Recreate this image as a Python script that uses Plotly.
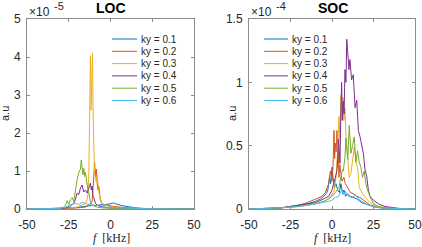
import plotly.graph_objects as go

W, H = 422, 247
colors = ["#0072BD", "#D95319", "#EDB120", "#7E2F8E", "#77AC30", "#4DBEEE"]
ky_labels = ["ky = 0.1", "ky = 0.2", "ky = 0.3", "ky = 0.4", "ky = 0.5", "ky = 0.6"]
x_ticks = [-50, -25, 0, 25, 50]
loc_yticks = [0, 1, 2, 3, 4, 5]
soc_yticks = [0, 0.5, 1, 1.5]

# ---------------- LOC (values in units of 1e-5) ----------------
loc_f1 = [-50,-35,-25,-20,-16,-13,-10,-8,-6,-4,-2,0,1,2,3,4,6,8,10,12,15,20,25,35,50]
loc_v1 = [0,0.005,0.02,0.04,0.06,0.08,0.10,0.09,0.12,0.1,0.13,0.14,0.15,0.16,0.14,0.12,0.10,0.08,0.06,0.04,0.03,0.015,0.005,0.002,0]

loc_f2 = [-50,-35,-25,-20,-15,-13,-12,-11,-10.5,-10,-9.5,-9,-8.5,-8,-7.5,-7,-6.5,-6,-5,-4,-2,0,3,6,10,20,35,50]
loc_v2 = [0,0.005,0.02,0.03,0.05,0.1,0.15,0.2,0.5,0.9,1.22,0.85,1.05,0.7,0.5,0.6,0.35,0.2,0.15,0.12,0.1,0.08,0.06,0.05,0.03,0.01,0.002,0]

loc_f3 = [-50,-35,-25,-20,-17,-15,-14,-13.5,-13,-12.5,-12,-11.6,-11.2,-10.8,-10.4,-10,-9.6,-9,-8.5,-8,-7.5,-7,-6,-5,-3,0,5,10,20,35,50]
loc_v3 = [0,0.005,0.02,0.05,0.1,0.15,0.25,0.4,0.9,2.0,4.03,2.6,3.2,4.1,2.5,1.4,0.95,0.85,0.7,0.88,0.58,0.45,0.25,0.15,0.1,0.06,0.03,0.02,0.01,0.002,0]

loc_f4 = [-50,-35,-28,-25,-23,-22,-21,-20,-19,-18,-17,-16,-15,-14,-13,-12.5,-12,-11.5,-11,-10.5,-10,-9,-8,-7,-5,-3,0,5,10,20,35,50]
loc_v4 = [0,0.005,0.02,0.04,0.1,0.15,0.25,0.42,0.38,0.55,0.63,0.45,0.5,0.42,0.55,0.6,0.68,0.5,0.6,0.35,0.3,0.15,0.1,0.08,0.05,0.04,0.03,0.02,0.01,0.005,0.002,0]

loc_f5 = [-50,-35,-30,-28,-27,-26,-25,-24,-23,-22,-21,-20,-19,-18,-17.5,-17,-16.5,-16,-15.5,-15,-14.5,-14,-13.5,-13,-12,-11,-10,-8,-5,0,10,20,35,50]
loc_v5 = [0,0.005,0.02,0.05,0.1,0.22,0.12,0.25,0.3,0.2,0.55,0.77,0.95,1.05,1.29,1.0,0.9,1.07,0.85,0.97,0.75,0.68,0.5,0.42,0.18,0.12,0.08,0.05,0.03,0.02,0.01,0.005,0.002,0]

loc_f6 = [-50,-35,-30,-27,-25,-23,-21,-19,-17,-15,-13,-11,-9,-7,-5,-3,0,5,10,20,35,50]
loc_v6 = [0,0.005,0.02,0.05,0.1,0.12,0.15,0.12,0.18,0.14,0.12,0.1,0.08,0.1,0.07,0.05,0.04,0.03,0.02,0.01,0.002,0]

# ---------------- SOC (values in units of 1e-4) ----------------
soc_f1 = [-50,-40,-30,-25,-20,-15,-10,-7,-5,-3.5,-2.5,-1.5,-0.8,0,0.6,1.4,2.4,3.4,4.4,5.4,6.4,7.2,8.2,9.2,11,13,15,18,22,26,30,40,50]
soc_v1 = [0,0.003,0.01,0.02,0.03,0.04,0.06,0.08,0.1,0.12,0.15,0.25,0.2,0.33,0.25,0.17,0.2,0.15,0.13,0.2,0.12,0.15,0.1,0.12,0.1,0.09,0.08,0.05,0.03,0.015,0.008,0.002,0]

soc_f2 = [-50,-40,-30,-25,-20,-15,-10,-6,-4,-2,-1,0,0.6,1.2,1.6,2,2.5,3,3.4,3.8,4.2,4.7,5.2,6,7.2,8,9,10,11,13,15,17,19,21,23,26,30,40,50]
soc_v2 = [0,0.003,0.01,0.02,0.03,0.05,0.08,0.1,0.13,0.2,0.3,0.22,0.33,0.62,0.4,0.52,0.45,0.62,0.5,0.45,0.25,0.35,0.3,0.22,0.25,0.2,0.18,0.15,0.13,0.12,0.1,0.09,0.07,0.05,0.03,0.02,0.01,0.003,0]

soc_f3 = [-50,-40,-30,-20,-10,-5,-2,-0.6,1.4,2.4,3.4,4.2,4.8,5.4,6,6.6,7.2,7.8,8.4,9.5,10.4,11.4,12.4,13.4,14.4,15.4,16.4,17.4,19.4,23,27,35,50]
soc_v3 = [0,0.002,0.01,0.02,0.04,0.06,0.08,0.1,0.15,0.25,0.45,0.73,0.55,0.9,0.7,0.88,0.7,0.8,0.57,0.39,0.25,0.28,0.41,0.49,0.37,0.33,0.17,0.15,0.1,0.05,0.02,0.005,0]

soc_f4 = [-50,-40,-30,-25,-20,-15,-10,-5,-2,0,1,2,3,4,4.8,5.3,5.8,6.3,6.8,7.3,7.8,8.4,8.9,9.4,10.2,10.8,11.8,12.8,13.9,14.9,15.9,16.9,17.9,18.9,19.9,20.9,21.9,22.9,24.9,28,32,40,50]
soc_v4 = [0,0.002,0.01,0.02,0.03,0.04,0.05,0.08,0.1,0.15,0.2,0.25,0.3,0.55,0.36,0.75,1.0,0.7,0.85,0.75,1.1,1.0,1.34,1.25,1.1,1.18,1.02,1.06,0.8,0.86,0.62,0.57,0.49,0.44,0.31,0.26,0.15,0.1,0.07,0.04,0.02,0.005,0]

soc_f5 = [-50,-40,-30,-20,-10,-5,-2,0,2,4.2,5.3,6.4,6.8,7.8,8.4,9,9.5,10.4,11,11.4,12.4,13.4,14.4,15.4,16.4,17.4,18.4,19.4,20.4,21.4,23.4,25.4,28,32,40,50]
soc_v5 = [0,0.002,0.01,0.02,0.04,0.06,0.08,0.1,0.13,0.17,0.25,0.31,0.3,0.41,0.56,0.45,0.39,0.66,0.5,0.44,0.5,0.57,0.37,0.46,0.37,0.33,0.25,0.3,0.2,0.15,0.08,0.04,0.02,0.01,0.003,0]

soc_f6 = [-50,-40,-30,-20,-15,-10,-5,-2,0,2,4,5,6,7,8,9,10,12,14,16,18,22,26,30,40,50]
soc_v6 = [0,0.003,0.01,0.02,0.03,0.04,0.05,0.06,0.07,0.09,0.1,0.13,0.15,0.11,0.14,0.12,0.1,0.09,0.11,0.08,0.06,0.03,0.015,0.008,0.002,0]

loc_f = [loc_f1, loc_f2, loc_f3, loc_f4, loc_f5, loc_f6]
loc_v = [loc_v1, loc_v2, loc_v3, loc_v4, loc_v5, loc_v6]
soc_f = [soc_f1, soc_f2, soc_f3, soc_f4, soc_f5, soc_f6]
soc_v = [soc_v1, soc_v2, soc_v3, soc_v4, soc_v5, soc_v6]

FONT = "Liberation Sans, Arial, sans-serif"
TXT = "#262626"

fig = go.Figure()
for i in range(6):
    fig.add_trace(go.Scatter(x=loc_f[i], y=loc_v[i], mode="lines", name=ky_labels[i],
                             line=dict(color=colors[i], width=1), xaxis="x", yaxis="y",
                             showlegend=False))
for i in range(6):
    fig.add_trace(go.Scatter(x=soc_f[i], y=soc_v[i], mode="lines", name=ky_labels[i],
                             line=dict(color=colors[i], width=1), xaxis="x2", yaxis="y2",
                             showlegend=False))

def px(x):
    return x / W
def py(y):
    return 1 - y / H

axis_common = dict(showline=True, linecolor="#8c8c8c", linewidth=1, mirror="ticks",
                   ticks="inside", ticklen=3, tickcolor="#8c8c8c", showgrid=False,
                   zeroline=False, automargin=False,
                   tickfont=dict(family=FONT, size=12, color=TXT))

fig.update_layout(
    template="none",
    width=W, height=H, margin=dict(l=0, r=0, t=0, b=0, pad=0), autosize=False,
    paper_bgcolor="white", plot_bgcolor="white", showlegend=False,
    xaxis=dict(domain=[px(27), px(194)], range=[-50, 50], tickvals=x_ticks,
               ticktext=[str(t) for t in x_ticks], anchor="y", ticklabelstandoff=5, **axis_common),
    yaxis=dict(domain=[py(209), py(19)], range=[0, 5], tickvals=loc_yticks,
               ticktext=[str(t) for t in loc_yticks], anchor="x", ticklabelstandoff=3, **axis_common),
    xaxis2=dict(domain=[px(249), px(415)], range=[-50, 50], tickvals=x_ticks,
                ticktext=[str(t) for t in x_ticks], anchor="y2", ticklabelstandoff=5, **axis_common),
    yaxis2=dict(domain=[py(209), py(19)], range=[0, 1.5], tickvals=soc_yticks,
                ticktext=["0", "0.5", "1", "1.5"], anchor="x2", ticklabelstandoff=3, **axis_common),
)

ann = []
shapes = []
def text(t, x, y, size=11, xanchor="center", family=FONT, color=TXT, angle=0):
    ann.append(dict(text=t, x=px(x), y=py(y), xref="paper", yref="paper",
                    xanchor=xanchor, yanchor="middle", textangle=angle, showarrow=False,
                    font=dict(family=family, size=size, color=color)))

# titles
text("<b>LOC</b>", 111, 8, size=14, color="black")
text("<b>SOC</b>", 333, 8, size=14, color="black")
# exponents
text("×10", 27, 12, size=12, xanchor="left")
text("-5", 52, 6, size=11, xanchor="left")
text("×10", 249, 12, size=12, xanchor="left")
text("-4", 274, 6, size=11, xanchor="left")
# y labels
text("a.u", 5, 114, size=11, angle=-90)
text("a.u", 232, 114, size=11, angle=-90)
# x labels
text("<i>f</i>  [kHz]", 111, 238, size=12, family="Liberation Serif, DejaVu Serif, serif")
text("<i>f</i>  [kHz]", 332, 238, size=12, family="Liberation Serif, DejaVu Serif, serif")
# legends
for (lx0, lx1, tx) in ((112, 137, 139), (264, 288, 290)):
    for i in range(6):
        yy = 39 + 12.3 * i
        shapes.append(dict(type="line", xref="paper", yref="paper", x0=px(lx0), x1=px(lx1),
                           y0=py(yy), y1=py(yy), line=dict(color=colors[i], width=1)))
        text(ky_labels[i], tx, yy, size=10, xanchor="left")

fig.update_layout(annotations=ann, shapes=shapes)
fig.write_html("out.html", config={"displayModeBar": False},
               post_script="document.body.style.margin='0';")
